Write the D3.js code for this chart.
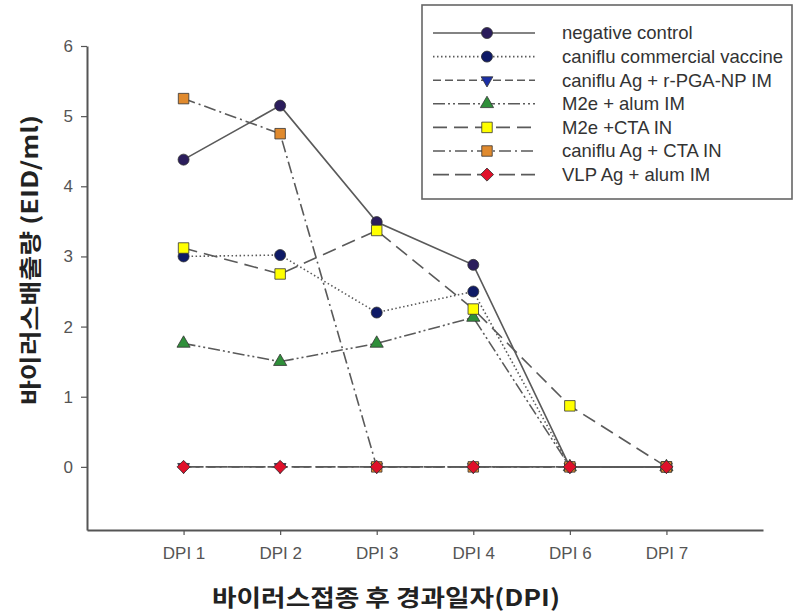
<!DOCTYPE html>
<html>
<head>
<meta charset="utf-8">
<script src="https://cdn.jsdelivr.net/npm/d3@7"></script>
<style>
  body { margin: 0; background: #fff; }
  text { font-family: Arial, "Liberation Sans", sans-serif; }
</style>
</head>
<body>
<div id="wrapper"></div>
<script>
// data
const dpiLabels = ["DPI 1", "DPI 2", "DPI 3", "DPI 4", "DPI 6", "DPI 7"]
const yTicks = [0, 1, 2, 3, 4, 5, 6]

const seriesNames = [
  "negative control",
  "caniflu commercial vaccine",
  "caniflu Ag + r-PGA-NP IM",
  "M2e + alum IM",
  "M2e +CTA IN",
  "caniflu Ag + CTA IN",
  "VLP Ag + alum IM"
]
const negativeControl = [4.38, 5.15, 3.49, 2.88, 0, 0]
const canifluCommercial = [3.0, 3.02, 2.2, 2.5, 0, 0]
const canifluPga = [0, 0, 0, 0, 0, 0]
const m2eAlum = [1.76, 1.5, 1.76, 2.13, 0, 0]
const m2eCta = [3.12, 2.75, 3.37, 2.25, 0.87, 0]
const canifluCta = [5.25, 4.75, 0, 0, 0, 0]
const vlpAlum = [0, 0, 0, 0, 0, 0]

const allValues = [negativeControl, canifluCommercial, canifluPga, m2eAlum, m2eCta, canifluCta, vlpAlum]

// styles per series
const styles = [
  {dash: null, symbol: d3.symbolCircle, size: 95, fill: "#2b1d5c"},
  {dash: "1.5,2.5", symbol: d3.symbolCircle, size: 95, fill: "#0e1a66"},
  {dash: "8,4", symbol: "triDown", size: 60, fill: "#1b2fa6"},
  {dash: "12,3,2,3,2,3", symbol: d3.symbolTriangle, size: 75, fill: "#2f8f3a"},
  {dash: "14,7", symbol: d3.symbolSquare, size: 110, fill: "#ffff00"},
  {dash: "12,4,2,4", symbol: d3.symbolSquare, size: 110, fill: "#e08a2e"},
  {dash: "16,6", symbol: "diamond", size: 85, fill: "#e0102a"}
]

const W = 796, H = 615
const svg = d3.select("#wrapper").append("svg")
  .attr("width", W).attr("height", H)

// scales
const x = d3.scaleLinear().domain([-1, 6]).range([87, 763])
const y = d3.scaleLinear().domain([-0.9, 6]).range([530, 46])

const axisColor = "#555"

// axes
svg.append("g")
  .attr("transform", "translate(87,0)")
  .call(d3.axisLeft(y).tickValues(yTicks).tickFormat(d3.format("d"))
    .tickSize(6).tickSizeOuter(0).tickPadding(8))
svg.append("g")
  .attr("transform", "translate(0,530)")
  .call(d3.axisBottom(x).tickValues(d3.range(dpiLabels.length))
    .tickFormat(i => dpiLabels[i]).tickSize(5).tickSizeOuter(0).tickPadding(12))

svg.selectAll(".domain").attr("stroke", axisColor).attr("stroke-width", 2)
svg.selectAll(".tick line").attr("stroke", axisColor).attr("stroke-width", 1.2)
svg.selectAll(".tick text").attr("fill", "#555").style("font-size", "17px")
  .style("font-family", "Arial, 'Liberation Sans', sans-serif")

// symbol helper
function symPath(s) {
  if (s.symbol === "triDown") return d3.symbol(d3.symbolTriangle, s.size)()
  if (s.symbol === "diamond") return d3.symbol(d3.symbolSquare, s.size)()
  return d3.symbol(s.symbol, s.size)()
}
function symRot(s) {
  if (s.symbol === "triDown") return " rotate(180)"
  if (s.symbol === "diamond") return " rotate(45)"
  return ""
}

const line = d3.line().x((d, i) => x(i)).y(d => y(d))

// draw series
allValues.forEach((vals, k) => {
  const s = styles[k]
  const g = svg.append("g")
  g.append("path")
    .attr("d", line(vals))
    .attr("fill", "none")
    .attr("stroke", "#5a5a5a")
    .attr("stroke-width", 1.6)
    .attr("stroke-dasharray", s.dash)
  g.selectAll("path.mk").data(vals).join("path")
    .attr("class", "mk")
    .attr("d", symPath(s))
    .attr("transform", (d, i) => `translate(${x(i)},${y(d)})` + symRot(s))
    .attr("fill", s.fill)
    .attr("stroke", "#333")
    .attr("stroke-width", 0.8)
})

// legend
const legend = svg.append("g")
legend.append("rect")
  .attr("x", 422).attr("y", 5).attr("width", 370).attr("height", 194)
  .attr("fill", "#fff").attr("stroke", "#666").attr("stroke-width", 1.6)

seriesNames.forEach((name, k) => {
  const s = styles[k]
  const ly = 33 + k * 23.6
  legend.append("line")
    .attr("x1", 433).attr("x2", 535).attr("y1", ly).attr("y2", ly)
    .attr("stroke", "#5a5a5a").attr("stroke-width", 1.6)
    .attr("stroke-dasharray", s.dash)
  legend.append("path")
    .attr("d", symPath(s))
    .attr("transform", `translate(487,${ly})` + symRot(s))
    .attr("fill", s.fill).attr("stroke", "#333").attr("stroke-width", 0.8)
  legend.append("text")
    .attr("x", 562).attr("y", ly).attr("dy", "0.35em")
    .attr("fill", "#333").style("font-size", "18.5px")
    .text(name)
})

// axis titles
svg.append("text")
  .attr("transform", "translate(30,260) rotate(-90)")
  .attr("text-anchor", "middle")
  .attr("textLength", 290).attr("lengthAdjust", "spacingAndGlyphs")
  .style("font-family", "'Noto Sans CJK KR', sans-serif")
  .style("font-weight", "bold").style("font-size", "22px")
  .attr("fill", "#222")
  .attr("dy", "0.35em")
  .text("바이러스배출량 (EID/ml)")

svg.append("text")
  .attr("x", 386).attr("y", 606)
  .attr("text-anchor", "middle")
  .attr("textLength", 348).attr("lengthAdjust", "spacingAndGlyphs")
  .style("font-family", "'Noto Sans CJK KR', sans-serif")
  .style("font-weight", "bold").style("font-size", "23px")
  .attr("fill", "#222")
  .text("바이러스접종 후 경과일자(DPI)")
</script>
</body>
</html>
